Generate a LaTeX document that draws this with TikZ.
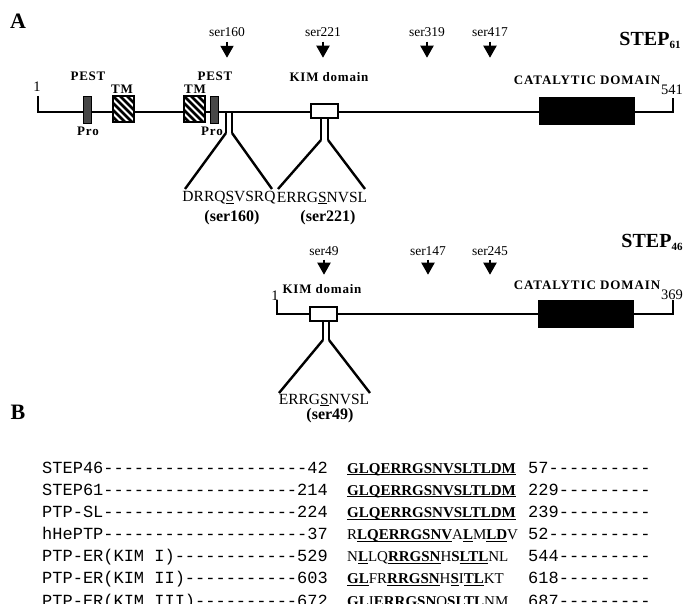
\documentclass[tikz,border=0pt]{standalone}
\usepackage{fontspec}
\setmainfont{Liberation Serif}
\newfontfamily\monofont{Liberation Mono}
\usetikzlibrary{arrows.meta}
\ExplSyntaxOn
\cs_new:Npn \rdash #1 {\prg_replicate:nn{#1}{-\kern0pt}}
\ExplSyntaxOff
\newcommand\uls[1]{\underline{\smash{#1}}}
\begin{document}
\begin{tikzpicture}[x=1pt,y=-1pt,
  every node/.style={inner sep=0pt},
  backbone/.style={line width=1.5pt},
  stem/.style={line width=1.6pt},
  desc/.style={line width=2.4pt},
  serarrow/.style={line width=2pt,-{Triangle[width=13pt,length=12pt]}},
  serlbl/.style={font=\fontsize{13.5}{15}\selectfont},
  bl/.style={font=\bfseries\fontsize{13}{14}\selectfont\addfontfeature{LetterSpace=6}},
  cat/.style={font=\bfseries\fontsize{13}{14}\selectfont\addfontfeature{LetterSpace=7}},
  num/.style={font=\fontsize{14.5}{16}\selectfont},
  seqtxt/.style={font=\fontsize{15.5}{17}\selectfont},
  serb/.style={font=\bfseries\fontsize{16}{18}\selectfont},
  panel/.style={font=\bfseries\fontsize{22}{24}\selectfont},
  steplbl/.style={font=\bfseries\fontsize{20}{22}\selectfont},
  pestbox/.style={draw,line width=1.2pt,fill=black!72,minimum width=8pt,minimum height=27pt},
  tmbox/.style={draw,line width=1.3pt,fill=white,minimum width=21pt,minimum height=26pt,
    path picture={\foreach \k in {-28,-21,...,21}{\draw[line width=2.6pt] ([xshift=\k pt]path picture bounding box.north west) -- ++(30,30);}}},
  kimbox/.style={draw,line width=1.5pt,fill=white,minimum width=27pt,minimum height=14pt},
  catbox/.style={draw,line width=1pt,fill=black,minimum width=95pt,minimum height=27pt},
  mono/.style={font=\monofont\fontsize{17}{19}\selectfont,anchor=base west},
  seqb/.style={font=\fontsize{15}{17}\selectfont,anchor=base west},
]
\path[use as bounding box] (0,0) rectangle (689,604);
\clip (0,0) rectangle (689,604);

% ---------------- panel A : STEP61 ----------------
\node[panel] (lblA) at (18,21) {A};
\node[steplbl] (step61) at (650,40) {STEP\raisebox{-3pt}{\fontsize{11}{12}\selectfont 61}};

\node[num] (s61one) at (37,87) {1};
\node[num] (s61end) at (672,90) {541};
\coordinate (s61s) at (38,96);
\coordinate (s61l) at (38,112);
\coordinate (s61r) at (673,112);
\coordinate (s61e) at (673,98);
\draw[backbone] (s61s) -- (s61l) -- (s61r) -- (s61e);

\node[pestbox] (pest1) at (87.5,110) {};
\node[tmbox] (tm1) at (123.5,109) {};
\node[tmbox] (tm2) at (194.5,109) {};
\node[pestbox] (pest2) at (214.5,110) {};
\node[kimbox] (kim61) at (324.5,111) {};
\node[catbox] (cat61) at (586.5,111.5) {};

\node[bl] (pestl1) at (88,76) {PEST};
\node[bl] (pestl2) at (215,76) {PEST};
\node[bl] (tml1) at (122,89) {TM};
\node[bl] (tml2) at (195,89) {TM};
\node[bl] (pro1) at (88,131) {Pro};
\node[bl] (pro2) at (212,131) {Pro};
\node[bl] (kiml61) at (329,77) {KIM domain};
\node[cat] (catl61) at (587,80) {CATALYTIC DOMAIN};

\node[serlbl] (l160) at (227,32) {ser160};
\node[serlbl] (l221) at (323,32) {ser221};
\node[serlbl] (l319) at (427,32) {ser319};
\node[serlbl] (l417) at (490,32) {ser417};
\foreach \n in {l160,l221,l319,l417}
  \draw[serarrow] ([yshift=-5pt]\n.south) -- ++(0,16);

% descender ser160
\coordinate (d160a) at (226,113);
\coordinate (d160b) at (232,113);
\coordinate (d160c) at (226,133);
\coordinate (d160d) at (232,133);
\coordinate (d160e) at (185,189);
\coordinate (d160f) at (272,189);
\draw[stem] (d160a) -- (d160c);
\draw[stem] (d160b) -- (d160d);
\draw[desc] (d160c) -- (d160e);
\draw[desc] (d160d) -- (d160f);
\node[seqtxt] (seq160) at (229,198) {DRRQ\underline{S}VSRQ};
\node[serb] (ser160) at (232,218) {(ser160)};

% descender ser221
\coordinate (d221a) at (321,118);
\coordinate (d221b) at (328,118);
\coordinate (d221c) at (321,140);
\coordinate (d221d) at (328,140);
\coordinate (d221e) at (278,189);
\coordinate (d221f) at (365,189);
\draw[stem] (d221a) -- (d221c);
\draw[stem] (d221b) -- (d221d);
\draw[desc] (d221c) -- (d221e);
\draw[desc] (d221d) -- (d221f);
\node[seqtxt] (seq221) at (322,198) {ERRG\underline{S}NVSL};
\node[serb] (ser221) at (328,218) {(ser221)};

% ---------------- STEP46 ----------------
\node[steplbl] (step46) at (652,242) {STEP\raisebox{-3pt}{\fontsize{11}{12}\selectfont 46}};
\node[num] (s46one) at (275,296) {1};
\node[num] (s46end) at (672,295) {369};
\coordinate (s46s) at (277,300);
\coordinate (s46l) at (277,314);
\coordinate (s46r) at (673,314);
\coordinate (s46e) at (673,300);
\draw[backbone] (s46s) -- (s46l) -- (s46r) -- (s46e);

\node[kimbox] (kim46) at (323.5,314) {};
\node[catbox] (cat46) at (586,314) {};
\node[bl] (kiml46) at (322,289) {KIM domain};
\node[cat] (catl46) at (587,285) {CATALYTIC DOMAIN};

\node[serlbl] (l49) at (324,251) {ser49};
\node[serlbl] (l147) at (428,251) {ser147};
\node[serlbl] (l245) at (490,251) {ser245};
\foreach \n in {l49,l147,l245}
  \draw[serarrow] ([yshift=-4pt]\n.south) -- ++(0,15);

\coordinate (d49a) at (323,321);
\coordinate (d49b) at (329,321);
\coordinate (d49c) at (323,340);
\coordinate (d49d) at (329,340);
\coordinate (d49e) at (279,393);
\coordinate (d49f) at (370,393);
\draw[stem] (d49a) -- (d49c);
\draw[stem] (d49b) -- (d49d);
\draw[desc] (d49c) -- (d49e);
\draw[desc] (d49d) -- (d49f);
\node[seqtxt] (seq49) at (324,400) {ERRG\underline{S}NVSL};
\node[serb] (ser49) at (330,416) {(ser49)};

% ---------------- panel B ----------------
\node[panel] (lblB) at (18,412) {B};

\node[mono] (r1a) at (42,473) {STEP46\rdash{20}42};
\node[seqb] (r1b) at (347,473) {\textbf{\uls{GLQERRGSNVSLTLDM}}};
\node[mono] (r1c) at (528,473) {57\rdash{10}};

\node[mono] (r2a) at (42,495.2) {STEP61\rdash{19}214};
\node[seqb] (r2b) at (347,495.2) {\textbf{\uls{GLQERRGSNVSLTLDM}}};
\node[mono] (r2c) at (528,495.2) {229\rdash{9}};

\node[mono] (r3a) at (42,517.3) {PTP-SL\rdash{19}224};
\node[seqb] (r3b) at (347,517.3) {\textbf{\uls{GLQERRGSNVSLTLDM}}};
\node[mono] (r3c) at (528,517.3) {239\rdash{9}};

\node[mono] (r4a) at (42,539.5) {hHePTP\rdash{20}37};
\node[seqb] (r4b) at (347,539.5) {R\textbf{\uls{LQERRGSNV}}A\textbf{\uls{L}}M\textbf{\uls{LD}}V};
\node[mono] (r4c) at (528,539.5) {52\rdash{10}};

\node[mono] (r5a) at (42,561.7) {PTP-ER(KIM I)\rdash{12}529};
\node[seqb] (r5b) at (347,561.7) {N\textbf{\uls{L}}LQ\textbf{\uls{RRGSN}}H\textbf{S\uls{LTL}}NL};
\node[mono] (r5c) at (528,561.7) {544\rdash{9}};

\node[mono] (r6a) at (42,583.8) {PTP-ER(KIM II)\rdash{11}603};
\node[seqb] (r6b) at (347,583.8) {\textbf{\uls{GL}}FR\textbf{\uls{RRGSN}}H\textbf{\uls{S}}I\textbf{\uls{TL}}KT};
\node[mono] (r6c) at (528,583.8) {618\rdash{9}};

\node[mono] (r7a) at (42,606) {PTP-ER(KIM III)\rdash{10}672};
\node[seqb] (r7b) at (347,606) {\textbf{\uls{GL}}I\textbf{\uls{ERRGSN}}Q\textbf{\uls{SLTL}}NM};
\node[mono] (r7c) at (528,606) {687\rdash{9}};
\end{tikzpicture}
\end{document}
